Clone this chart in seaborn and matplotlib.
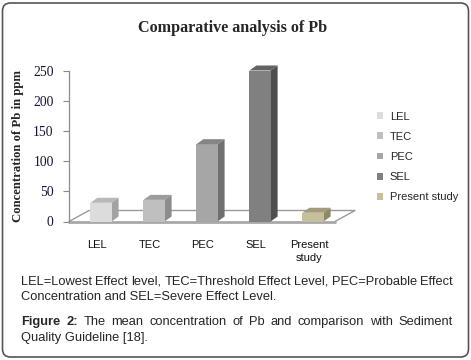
import numpy as np
import pandas as pd
import matplotlib
matplotlib.use("Agg")
import matplotlib.pyplot as plt
import matplotlib.transforms as mtrans
from matplotlib.patches import Polygon, FancyBboxPatch
import seaborn as sns

# data
guidelines = ["LEL", "TEC", "PEC", "SEL", "Present study"]
tick_labels = ["LEL", "TEC", "PEC", "SEL", "Present\nstudy"]
pb_ppm = [31, 35.8, 128, 250, 14.5]
y_ticks = [0, 50, 100, 150, 200, 250]

front_colors = ["#dcdcdc", "#bfbfbf", "#a6a6a6", "#808080", "#c6bf9b"]
side_colors = ["#a3a3a3", "#8c8c8c", "#6f6f6f", "#4e4e4e", "#8f8866"]
top_colors = ["#b8b8b8", "#9c9c9c", "#858585", "#636363", "#a39c7a"]

df = pd.DataFrame({"Guideline": guidelines, "Pb": pb_ppm})

sns.set_theme(style="white")
plt.rcParams["font.family"] = ["Liberation Sans", "DejaVu Sans"]

W, H = 471, 360
fig = plt.figure(figsize=(W / 100, H / 100), dpi=100)
ax = fig.add_axes([69 / W, 1 - 221.5 / H, 266 / W, 151 / H])

sns.barplot(data=df, x="Guideline", y="Pb", hue="Guideline", order=guidelines,
            hue_order=guidelines, palette=front_colors, width=0.40, dodge=False,
            saturation=1, legend=False, edgecolor="none", ax=ax, zorder=3)

ax.set_xlim(-0.604, 4.415)
ax.set_ylim(0, 250)
ax.set_yticks(y_ticks)
ax.set_xticks(range(len(guidelines)))
ax.set_xticklabels(tick_labels, fontsize=8, linespacing=1.45, color="#111111")
ax.set_xlabel("")
ax.set_ylabel("")
ax.tick_params(axis="x", length=0, pad=13)
ax.tick_params(axis="y", length=4, width=0.8, color="#888888", pad=7, left=True)
for lbl in ax.get_yticklabels():
    lbl.set_fontfamily(["Liberation Serif", "DejaVu Serif"])
    lbl.set_fontsize(9.8)
    lbl.set_color("#15153a")
shift = mtrans.ScaledTranslation(-0.04, 0, fig.dpi_scale_trans)
for lbl in ax.get_xticklabels():
    lbl.set_transform(lbl.get_transform() + shift)

for side in ["top", "right", "bottom"]:
    ax.spines[side].set_visible(False)
ax.spines["left"].set_color("#8c8c8c")
ax.spines["left"].set_linewidth(0.9)
ax.patch.set_alpha(0)

bars = list(ax.patches)

# legend
ax.legend(handles=bars, labels=guidelines, loc="upper left",
          bbox_to_anchor=(377 / W, 1 - 111.5 / H), bbox_transform=fig.transFigure,
          frameon=False, fontsize=8, handlelength=0.55, handleheight=0.55,
          handletextpad=0.6, labelspacing=0.92, borderpad=0, borderaxespad=0)

# pseudo 3D faces, offsets converted from pixels to data units
x_per_px = (4.415 + 0.604) / 266
y_per_px = 250 / 151
dx, dy = 7 * x_per_px, 5 * y_per_px
for i, b in enumerate(bars):
    x0, w, h = b.get_x(), b.get_width(), b.get_height()
    x1 = x0 + w
    ax.add_patch(Polygon([(x1, 0), (x1 + dx, dy), (x1 + dx, h + dy), (x1, h)],
                         closed=True, fc=side_colors[i], ec="none", zorder=2.9, clip_on=False))
    ax.add_patch(Polygon([(x0, h), (x0 + dx, h + dy), (x1 + dx, h + dy), (x1, h)],
                         closed=True, fc=top_colors[i], ec="none", zorder=3.1, clip_on=False))

# floor plane
fx, fy = 20 * x_per_px, 11 * y_per_px
xa, xb = ax.get_xlim()
ax.plot([xa, xa + fx, xb + fx, xb], [0, fy, fy, 0], color="#9a9a9a", lw=1.0,
        zorder=1, clip_on=False)
ax.plot([xa, xb], [0, 0], color="#a8a8a8", lw=2.0, zorder=1.5, clip_on=False)

# title and axis label
fig.text(233 / W, 1 - 28 / H, "Comparative analysis of Pb", ha="center", va="center",
         fontsize=11.6, fontweight="bold", family=["Liberation Serif", "DejaVu Serif"])
fig.text(18 / W, 1 - 146 / H, "Concentration of Pb in ppm", ha="center", va="center",
         rotation=90, fontsize=9.2, fontweight="bold",
         family=["Liberation Serif", "DejaVu Serif"])

# caption, justified lines drawn word by word
renderer = fig.canvas.get_renderer()
cap_size = 9.3
line_words = []


def text_width(s, weight="normal"):
    t = fig.text(0, 0, s, fontsize=cap_size, fontweight=weight)
    wd = t.get_window_extent(renderer).width
    t.remove()
    return wd


def justified(parts, y, x0, x1):
    words = []
    for text, weight in parts:
        for wd in text.split(" "):
            words.append(fig.text(x0 / W, 1 - y / H, wd, fontsize=cap_size,
                                  fontweight=weight, va="baseline", ha="left"))
    widths = [t.get_window_extent(renderer).width for t in words]
    gap = (x1 - x0 - sum(widths)) / (len(words) - 1)
    x = x0
    for t, wdt in zip(words, widths):
        t.set_x(x / W)
        x += wdt + gap
    line_words.append((words, y))


cx0, cx1 = 21, 453
justified([("LEL=Lowest Effect level, TEC=Threshold Effect Level, PEC=Probable Effect", "normal")],
          285.3, cx0, cx1)
fig.text(cx0 / W, 1 - 299.7 / H, "Concentration and SEL=Severe Effect Level.",
         fontsize=cap_size, va="baseline", ha="left")
justified([("Figure 2:", "bold"),
           ("The mean concentration of Pb and comparison with Sediment", "normal")],
          325.3, cx0, cx1)
fig.text(cx0 / W, 1 - 341.3 / H, "Quality Guideline [18].", fontsize=cap_size,
         va="baseline", ha="left")

# the Agg rasteriser can drop single words a pixel or two off the line;
# line them up on the most common ink bottom of the words
fig.canvas.draw()
img = np.asarray(fig.canvas.buffer_rgba())[:, :, 0].astype(int)
for words, y in line_words:
    bottoms = {}
    for t in words:
        s = t.get_text()
        core = s.rstrip(",")
        if set(core) & set("gjpqyQ;[]()"):
            continue
        bb = t.get_window_extent(renderer)
        r0, r1 = int(H - bb.y1) - 2, int(H - bb.y0) + 3
        c0 = int(bb.x0)
        c1 = int(bb.x0 + text_width(core, t.get_fontweight())) - 1
        rows = np.where((255 - img[r0:r1, c0:c1]).max(axis=1) > 110)[0]
        if len(rows):
            bottoms[t] = r0 + rows.max()
    if not bottoms:
        continue
    vals = list(bottoms.values())
    ref = max(set(vals), key=vals.count)
    for t, bot in bottoms.items():
        if bot != ref:
            t.set_y(1 - (y + ref - bot) / H)

# rounded border around the whole panel
border = FancyBboxPatch((0.025, 0.03), 4.66, 3.54,
                        boxstyle="round,pad=0,rounding_size=0.08",
                        transform=fig.dpi_scale_trans, fc="none", ec="#555555", lw=1.2)
fig.add_artist(border)

fig.savefig("out.png", dpi=100)
